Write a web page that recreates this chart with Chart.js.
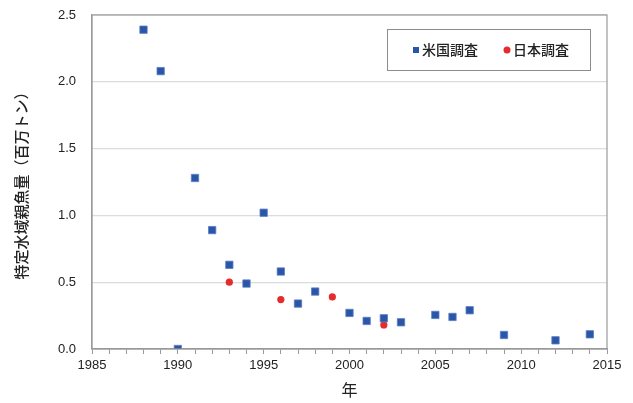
<!DOCTYPE html>
<html>
<head>
<meta charset="utf-8">
<script src="https://cdn.jsdelivr.net/npm/chart.js@4"></script>
<style>
  html, body { margin: 0; padding: 0; background: #fff; }
  #wrap { width: 633px; height: 403px; }
</style>
</head>
<body>
<div id="wrap"><canvas id="grafico"></canvas></div>
<script>
// 米国調査
const usYears = [1988, 1989, 1990, 1991, 1992, 1993, 1994, 1995, 1996, 1997, 1998, 2000, 2001, 2002, 2003, 2005, 2006, 2007, 2009, 2012, 2014];
const usValues = [2.39, 2.08, 0.0, 1.28, 0.89, 0.63, 0.49, 1.02, 0.58, 0.34, 0.43, 0.27, 0.21, 0.23, 0.20, 0.255, 0.24, 0.29, 0.105, 0.065, 0.11];
// 日本調査
const jpYears = [1993, 1996, 1999, 2002];
const jpValues = [0.50, 0.37, 0.39, 0.18];

const seriesLabels = ['米国調査', '日本調査'];
const xTitle = '年';
const yTitle = '特定水域親魚量（百万トン）';

const cjk = '"Noto Sans CJK JP", "Noto Sans", sans-serif';
const latin = '"Liberation Sans", Arial, sans-serif';

function toPoints(xs, ys) {
  return xs.map((x, i) => ({ x: x, y: ys[i] }));
}

// recuadro del área de trazado (arriba y derecha)
const frame = {
  id: 'frame',
  afterDraw(chart) {
    const a = chart.chartArea, c = chart.ctx;
    c.save();
    c.strokeStyle = '#9a9a9a';
    c.lineWidth = 1.2;
    c.strokeRect(a.left, a.top, a.right - a.left, a.bottom - a.top);
    c.restore();
  }
};

// leyenda dentro del gráfico con marco
const boxLegend = {
  id: 'boxLegend',
  afterDraw(chart) {
    const c = chart.ctx;
    const ds = chart.data.datasets;
    c.save();
    c.fillStyle = '#fff';
    c.fillRect(387, 29, 203, 41);
    c.strokeStyle = '#8c8c8c';
    c.lineWidth = 1;
    c.strokeRect(387.5, 29.5, 203, 41);
    c.font = '500 14px ' + cjk;
    c.textBaseline = 'middle';
    const cy = 50;
    // 米国調査
    c.fillStyle = ds[0].backgroundColor;
    c.fillRect(413, cy - 3, 6, 6);
    c.fillStyle = '#222';
    c.fillText(ds[0].label, 422, cy);
    // 日本調査
    c.fillStyle = ds[1].backgroundColor;
    c.beginPath();
    c.arc(507, cy, 3.5, 0, Math.PI * 2);
    c.fill();
    c.fillStyle = '#222';
    c.fillText(ds[1].label, 513, cy);
    c.restore();
  }
};

const config = {
  type: 'scatter',
  data: {
    datasets: [
      {
        label: seriesLabels[0],
        data: toPoints(usYears, usValues),
        pointStyle: 'rect',
        pointRadius: 5.2,
        backgroundColor: '#2b56a8',
        borderColor: '#5a7fc4',
        borderWidth: 0.8
      },
      {
        label: seriesLabels[1],
        data: toPoints(jpYears, jpValues),
        pointStyle: 'circle',
        pointRadius: 3.6,
        backgroundColor: '#e52b2b',
        borderColor: '#e52b2b',
        borderWidth: 0
      }
    ]
  },
  options: {
    responsive: true,
    maintainAspectRatio: false,
    animation: false,
    layout: { padding: { left: 0, right: 26, top: 15, bottom: 0 } },
    plugins: {
      legend: { display: false },
      tooltip: { enabled: false }
    },
    scales: {
      x: {
        type: 'linear',
        min: 1985,
        max: 2015,
        ticks: {
          stepSize: 1,
          autoSkip: false,
          maxRotation: 0,
          padding: 4,
          color: '#222',
          font: { family: latin, size: 13 },
          callback: v => (v % 5 === 0 ? String(v) : '')
        },
        grid: { drawOnChartArea: false, drawTicks: true, tickLength: 5, color: '#9a9a9a' },
        border: { color: '#9a9a9a', width: 1.2 },
        title: {
          display: true,
          text: xTitle,
          color: '#222',
          font: { family: cjk, size: 16 },
          padding: { top: 0, bottom: 3 }
        },
        afterFit(scale) {
          scale.height = 54;
          scale.paddingLeft = 0;
          scale.paddingRight = 0;
        }
      },
      y: {
        min: 0,
        max: 2.5,
        ticks: {
          stepSize: 0.5,
          padding: 16,
          color: '#222',
          font: { family: latin, size: 13 },
          callback: v => v.toFixed(1)
        },
        grid: { color: '#dcdcdc', lineWidth: 1.2, drawTicks: false },
        border: { color: '#9a9a9a', width: 1.2 },
        title: {
          display: true,
          text: yTitle,
          color: '#222',
          font: { family: cjk, size: 15, weight: '500' },
          padding: { top: 12, bottom: 0 }
        },
        afterFit(scale) {
          scale.width = 92;
          scale.paddingTop = 0;
          scale.paddingBottom = 0;
        }
      }
    }
  },
  plugins: [frame, boxLegend]
};

const ctx = document.getElementById('grafico').getContext('2d');
const grafico = new Chart(ctx, config);
</script>
</body>
</html>
